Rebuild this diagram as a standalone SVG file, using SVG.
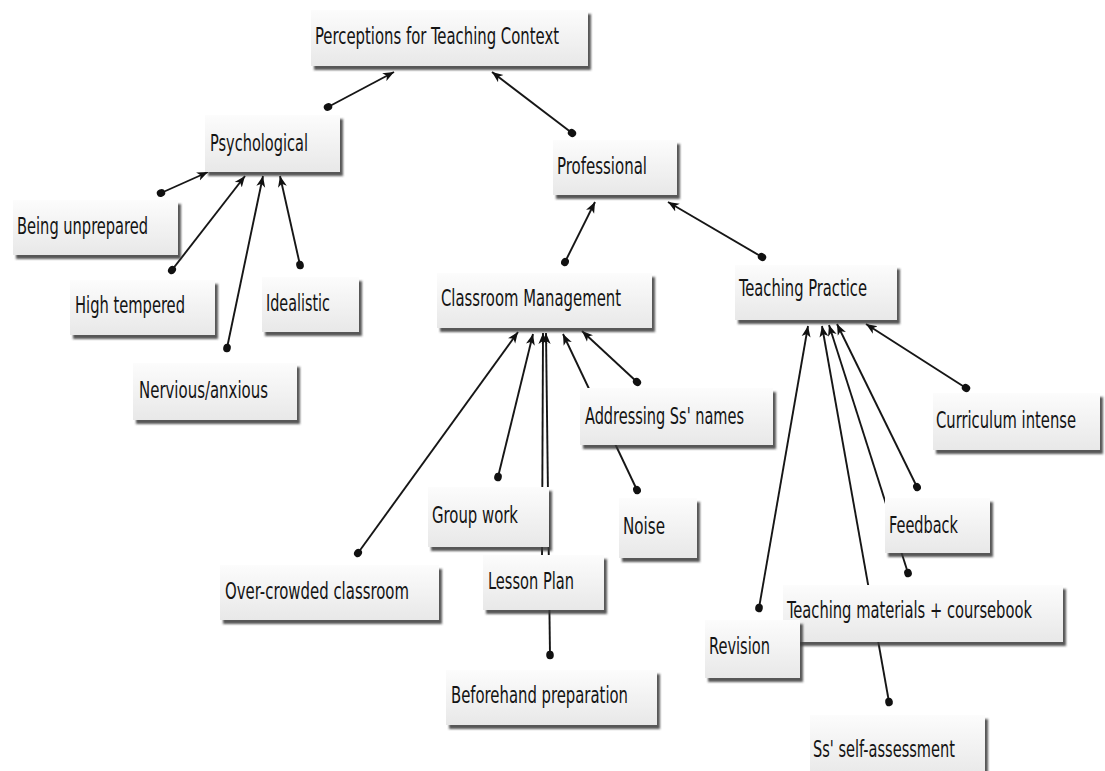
<svg xmlns="http://www.w3.org/2000/svg" width="1105" height="771" viewBox="0 0 1105 771">
  <defs>
    <linearGradient id="boxFill" x1="0" y1="0" x2="0" y2="1">
      <stop offset="0" stop-color="#fcfcfc"/>
      <stop offset="1" stop-color="#e8e8e8"/>
    </linearGradient>
    <filter id="shadow" x="-5%" y="-10%" width="115%" height="130%">
      <feDropShadow dx="3" dy="4" stdDeviation="1.3" flood-color="#3a3a3a" flood-opacity="0.85"/>
    </filter>
    <marker id="arrow" viewBox="-11 -5 12 10" refX="0" refY="0" markerWidth="12" markerHeight="10" markerUnits="userSpaceOnUse" orient="auto">
      <path d="M0,0 L-11,-4.5 L-8,0 L-11,4.5 Z" fill="#111"/>
    </marker>
    <marker id="dot" viewBox="-5 -5 10 10" refX="0" refY="0" markerWidth="10" markerHeight="10" markerUnits="userSpaceOnUse" orient="auto">
      <ellipse cx="0" cy="0" rx="4.3" ry="3.8" fill="#111"/>
    </marker>
  </defs>
  <style>
    .box { fill: url(#boxFill); filter: url(#shadow); }
    .lbl { font-family: "DejaVu Sans Condensed", "DejaVu Sans", "Liberation Sans", sans-serif; font-stretch: condensed; font-size: 23px; fill: #141414; }
    .link { stroke: #161616; stroke-width: 1.9; fill: none; marker-start: url(#dot); marker-end: url(#arrow); }
  </style>
  <rect width="1105" height="771" fill="#ffffff"/>

  <!-- connectors: from the child (dot) to the parent (arrowhead) -->
  <g id="connectors">
    <line class="link" x1="328" y1="107" x2="394" y2="72"/>
    <line class="link" x1="572" y1="133" x2="492" y2="72"/>
    <line class="link" x1="161" y1="193" x2="208" y2="172"/>
    <line class="link" x1="172" y1="270" x2="245" y2="176"/>
    <line class="link" x1="227" y1="348" x2="263" y2="176"/>
    <line class="link" x1="300" y1="265" x2="280" y2="176"/>
    <line class="link" x1="565" y1="262" x2="595" y2="202"/>
    <line class="link" x1="762" y1="257" x2="668" y2="202"/>
    <line class="link" x1="358" y1="553" x2="518" y2="332"/>
    <line class="link" x1="498" y1="477" x2="533" y2="334"/>
    <line class="link" x1="542" y1="560" x2="543" y2="333"/>
    <line class="link" x1="550" y1="655" x2="546" y2="333"/>
    <line class="link" x1="637" y1="382" x2="582" y2="331"/>
    <line class="link" x1="637" y1="490" x2="563" y2="334"/>
    <line class="link" x1="966" y1="388" x2="866" y2="324"/>
    <line class="link" x1="759" y1="608" x2="808" y2="326"/>
    <line class="link" x1="889" y1="702" x2="822" y2="326"/>
    <line class="link" x1="908" y1="573" x2="829" y2="325"/>
    <line class="link" x1="917" y1="487" x2="837" y2="324"/>
  </g>

  <g id="perceptions">
    <rect class="box" x="311" y="10" width="277" height="56"/>
    <text class="lbl" x="315" y="44" textLength="244" lengthAdjust="spacingAndGlyphs">Perceptions for Teaching Context</text>
  </g>
  <g id="psychological">
    <rect class="box" x="205" y="115" width="135" height="57"/>
    <text class="lbl" x="210" y="151" textLength="98" lengthAdjust="spacingAndGlyphs">Psychological</text>
  </g>
  <g id="being-unprepared">
    <rect class="box" x="13" y="200" width="165" height="55"/>
    <text class="lbl" x="17" y="234" textLength="131" lengthAdjust="spacingAndGlyphs">Being unprepared</text>
  </g>
  <g id="high-tempered">
    <rect class="box" x="70" y="280" width="145" height="55"/>
    <text class="lbl" x="75" y="313" textLength="110" lengthAdjust="spacingAndGlyphs">High tempered</text>
  </g>
  <g id="idealistic">
    <rect class="box" x="262" y="277" width="97" height="55"/>
    <text class="lbl" x="266" y="311" textLength="64" lengthAdjust="spacingAndGlyphs">Idealistic</text>
  </g>
  <g id="nervious">
    <rect class="box" x="133" y="363" width="164" height="57"/>
    <text class="lbl" x="139" y="398" textLength="129" lengthAdjust="spacingAndGlyphs">Nervious/anxious</text>
  </g>
  <g id="professional">
    <rect class="box" x="553" y="140" width="124" height="55"/>
    <text class="lbl" x="557" y="174" textLength="90" lengthAdjust="spacingAndGlyphs">Professional</text>
  </g>
  <g id="classroom-management">
    <rect class="box" x="437" y="273" width="215" height="55"/>
    <text class="lbl" x="441" y="306" textLength="180" lengthAdjust="spacingAndGlyphs">Classroom Management</text>
  </g>
  <g id="teaching-practice">
    <rect class="box" x="735" y="265" width="162" height="55"/>
    <text class="lbl" x="739" y="296" textLength="128" lengthAdjust="spacingAndGlyphs">Teaching Practice</text>
  </g>
  <g id="addressing-names">
    <rect class="box" x="580" y="388" width="193" height="57"/>
    <text class="lbl" x="585" y="424" textLength="159" lengthAdjust="spacingAndGlyphs">Addressing Ss' names</text>
  </g>
  <g id="curriculum-intense">
    <rect class="box" x="933" y="393" width="167" height="57"/>
    <text class="lbl" x="936" y="428" textLength="140" lengthAdjust="spacingAndGlyphs">Curriculum intense</text>
  </g>
  <g id="group-work">
    <rect class="box" x="428" y="487" width="121" height="60"/>
    <text class="lbl" x="432" y="523" textLength="86" lengthAdjust="spacingAndGlyphs">Group work</text>
  </g>
  <g id="noise">
    <rect class="box" x="619" y="498" width="78" height="60"/>
    <text class="lbl" x="623" y="534" textLength="42" lengthAdjust="spacingAndGlyphs">Noise</text>
  </g>
  <g id="over-crowded">
    <rect class="box" x="220" y="565" width="219" height="55"/>
    <text class="lbl" x="225" y="599" textLength="184" lengthAdjust="spacingAndGlyphs">Over-crowded classroom</text>
  </g>
  <g id="lesson-plan">
    <rect class="box" x="483" y="555" width="121" height="55"/>
    <text class="lbl" x="488" y="589" textLength="86" lengthAdjust="spacingAndGlyphs">Lesson Plan</text>
  </g>
  <g id="beforehand-preparation">
    <rect class="box" x="446" y="670" width="211" height="55"/>
    <text class="lbl" x="451" y="703" textLength="177" lengthAdjust="spacingAndGlyphs">Beforehand preparation</text>
  </g>
  <g id="feedback">
    <rect class="box" x="885" y="498" width="105" height="55"/>
    <text class="lbl" x="889" y="533" textLength="69" lengthAdjust="spacingAndGlyphs">Feedback</text>
  </g>
  <g id="teaching-materials">
    <rect class="box" x="783" y="585" width="280" height="57"/>
    <text class="lbl" x="787" y="618" textLength="245" lengthAdjust="spacingAndGlyphs">Teaching materials + coursebook</text>
  </g>
  <g id="revision">
    <rect class="box" x="705" y="620" width="95" height="58"/>
    <text class="lbl" x="709" y="654" textLength="61" lengthAdjust="spacingAndGlyphs">Revision</text>
  </g>
  <g id="self-assessment">
    <rect class="box" x="810" y="715" width="175" height="62"/>
    <text class="lbl" x="813" y="757" textLength="142" lengthAdjust="spacingAndGlyphs">Ss' self-assessment</text>
  </g>
</svg>
